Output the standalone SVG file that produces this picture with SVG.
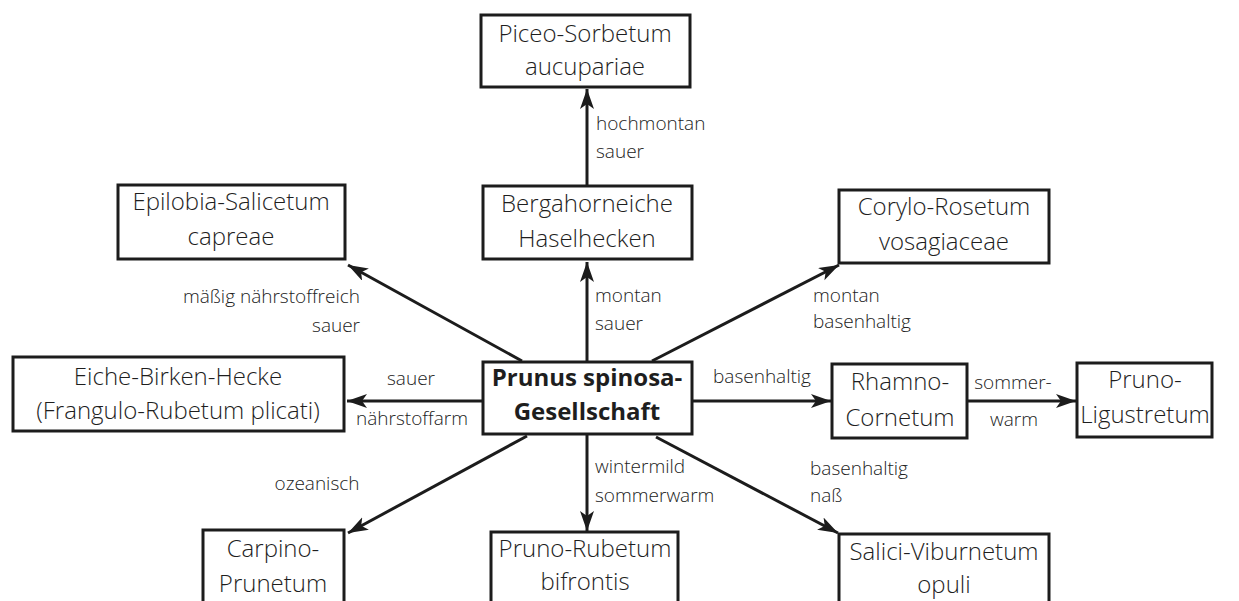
<svg xmlns="http://www.w3.org/2000/svg" width="1239" height="601" viewBox="0 0 1239 601">
<defs>
<style>
.box{fill:#fff;stroke:#1c1c1c;stroke-width:3}
.t{font-family:"Open Sans","Noto Sans","Liberation Sans",sans-serif;font-size:24px;font-weight:300;fill:#1e1e1e;text-anchor:middle}
.b{font-weight:bold}
.l{font-family:"Open Sans","Noto Sans","Liberation Sans",sans-serif;font-size:19px;font-weight:300;fill:#222}
.m{text-anchor:middle}
.e{text-anchor:end}
.c{stroke:#1c1c1c;stroke-width:3;fill:none;marker-end:url(#ah)}
</style>
<marker id="ah" markerUnits="userSpaceOnUse" markerWidth="22" markerHeight="16" refX="20" refY="7" orient="auto">
<path d="M0,0 L20,7 L0,14 L5,7 z" fill="#1c1c1c"/>
</marker>
</defs>
<rect width="1239" height="601" fill="#fff"/>
<g id="connectors">
<line class="c" x1="587" y1="186" x2="587" y2="89"/>
<line class="c" x1="587" y1="362" x2="587" y2="262"/>
<line class="c" x1="522" y1="361" x2="348" y2="265"/>
<line class="c" x1="652" y1="361" x2="839" y2="265"/>
<line class="c" x1="483" y1="401" x2="347" y2="401"/>
<line class="c" x1="692" y1="401" x2="831" y2="401"/>
<line class="c" x1="967" y1="401" x2="1076" y2="401"/>
<line class="c" x1="527" y1="436" x2="348" y2="533"/>
<line class="c" x1="587" y1="434" x2="587" y2="531"/>
<line class="c" x1="656" y1="437" x2="838" y2="533"/>
</g>
<g id="labels">
<text class="l" x="596" y="130">hochmontan</text>
<text class="l" x="596" y="158">sauer</text>
<text class="l" x="595" y="302">montan</text>
<text class="l" x="595" y="330">sauer</text>
<text class="l e" x="360" y="303">mäßig nährstoffreich</text>
<text class="l e" x="360" y="332">sauer</text>
<text class="l" x="813" y="302">montan</text>
<text class="l" x="813" y="328">basenhaltig</text>
<text class="l m" x="411" y="385">sauer</text>
<text class="l m" x="412" y="425">nährstoffarm</text>
<text class="l m" x="762" y="383">basenhaltig</text>
<text class="l m" x="1013" y="389">sommer-</text>
<text class="l m" x="1014" y="426">warm</text>
<text class="l m" x="317" y="490">ozeanisch</text>
<text class="l" x="595" y="473">wintermild</text>
<text class="l" x="595" y="502">sommerwarm</text>
<text class="l" x="810" y="475">basenhaltig</text>
<text class="l" x="810" y="502">naß</text>
</g>
<g id="piceo"><rect class="box" x="481" y="15" width="209" height="72"/><text class="t" x="585" y="42">Piceo-Sorbetum</text><text class="t" x="585" y="75">aucupariae</text></g>
<g id="bergahorn"><rect class="box" x="483" y="186" width="209" height="73"/><text class="t" x="587" y="212">Bergahorneiche</text><text class="t" x="587" y="247">Haselhecken</text></g>
<g id="epilobia"><rect class="box" x="118" y="185" width="227" height="74"/><text class="t" x="231" y="210">Epilobia-Salicetum</text><text class="t" x="231" y="245">capreae</text></g>
<g id="corylo"><rect class="box" x="839" y="190" width="210" height="73"/><text class="t" x="944" y="215">Corylo-Rosetum</text><text class="t" x="944" y="250">vosagiaceae</text></g>
<g id="eiche"><rect class="box" x="13" y="357" width="331" height="74"/><text class="t" x="178" y="385">Eiche-Birken-Hecke</text><text class="t" x="178" y="419">(Frangulo-Rubetum plicati)</text></g>
<g id="prunus"><rect class="box" x="483" y="362" width="209" height="72"/><text class="t b" x="587" y="386">Prunus spinosa-</text><text class="t b" x="587" y="420">Gesellschaft</text></g>
<g id="rhamno"><rect class="box" x="832" y="364" width="135" height="74"/><text class="t" x="900" y="390">Rhamno-</text><text class="t" x="900" y="426">Cornetum</text></g>
<g id="ligustretum"><rect class="box" x="1077" y="363" width="135" height="74"/><text class="t" x="1145" y="388">Pruno-</text><text class="t" x="1145" y="423">Ligustretum</text></g>
<g id="carpino"><rect class="box" x="203" y="530" width="141" height="90"/><text class="t" x="273" y="557">Carpino-</text><text class="t" x="273" y="592">Prunetum</text></g>
<g id="rubetum"><rect class="box" x="491" y="532" width="187" height="90"/><text class="t" x="585" y="557">Pruno-Rubetum</text><text class="t" x="585" y="590">bifrontis</text></g>
<g id="salici"><rect class="box" x="839" y="534" width="210" height="90"/><text class="t" x="944" y="560">Salici-Viburnetum</text><text class="t" x="944" y="593">opuli</text></g>
</svg>
